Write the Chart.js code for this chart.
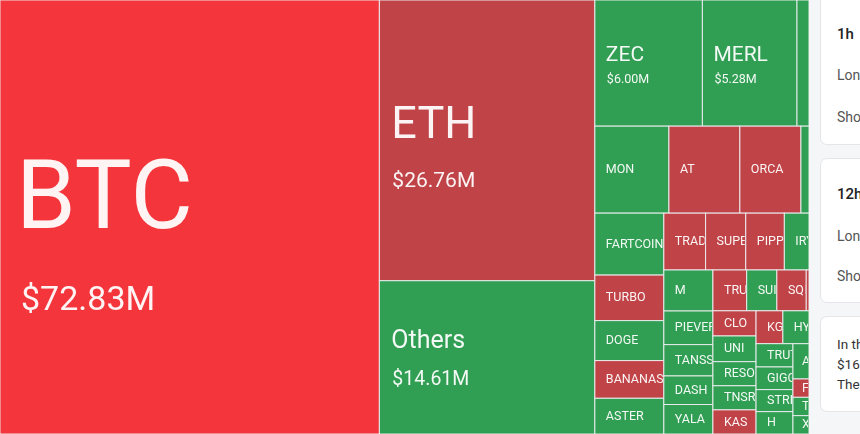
<!DOCTYPE html>
<html>
<head>
<meta charset="utf-8">
<title>Liquidation Heatmap</title>
<script src="https://cdn.jsdelivr.net/npm/chart.js@4.4.1/dist/chart.umd.min.js"></script>
<style>
  html, body { margin: 0; padding: 0; width: 860px; height: 434px; overflow: hidden; background: #f5f6f8; font-family: Roboto, "Noto Sans", sans-serif; }
  #mapBox { position: absolute; left: 0; top: 0; width: 809px; height: 434px; }
  .card { position: absolute; left: 820px; width: 320px; background: #fff; border: 1px solid #e4e6ea; border-radius: 7px; box-sizing: border-box; color: #333; white-space: nowrap; }
  .card .ln { position: absolute; left: 16px; font-size: 14px; line-height: 20px; color: #555; }
  .card .hd { color: #222; font-weight: 500; font-size: 15px; }
  .card .tx { font-size: 13.5px; color: #333; }
</style>
</head>
<body>
<div id="mapBox"><canvas id="liqMap" width="809" height="434"></canvas></div>

<div class="card" style="top:-12px;height:157px">
  <div class="ln hd" style="top:35px">1h</div>
  <div class="ln" style="top:76px">Long</div>
  <div class="ln" style="top:118px">Short</div>
</div>
<div class="card" style="top:158px;height:145px">
  <div class="ln hd" style="top:25px">12h</div>
  <div class="ln" style="top:67px">Long</div>
  <div class="ln" style="top:107px">Short</div>
</div>
<div class="card" style="top:316px;height:96px">
  <div class="ln tx" style="top:17px">In the past 24 hours, traders were liquidated,</div>
  <div class="ln tx" style="top:37px">$162.47 million in total.</div>
  <div class="ln tx" style="top:57px">The largest single liquidation order</div>
</div>

<script>
// 24h liquidations per coin, $ millions
const coins = ['BTC', 'ETH', 'Others', 'ZEC', 'MERL', 'XPL', 'MON', 'AT', 'ORCA', 'ENA',
  'FARTCOIN', 'TURBO', 'DOGE', 'BANANAS31', 'ASTER', 'TRADOOR', 'SUPER', 'PIPPIN', 'IRYS',
  'M', 'PIEVERSE', 'TANSSI', 'DASH', 'YALA', 'TRUMP', 'SUI', 'SQD', 'WLD',
  'CLO', 'UNI', 'RESOLV', 'TNSR', 'KAS', 'KGEN', 'HYPE', 'TRUTH', 'GIGGLE', 'STRK', 'H',
  'AVAX', 'FET', 'TAO', 'XRP'];
const liqMillions = [72.83, 26.76, 14.61, 6.00, 5.28, 0.67, 2.85, 2.73, 2.35, 0.31,
  1.89, 1.39, 1.22, 1.15, 1.09, 1.05, 1.01, 0.97, 0.62,
  0.89, 0.73, 0.68, 0.62, 0.64, 0.61, 0.545, 0.53, 0.05,
  0.48, 0.49, 0.46, 0.46, 0.46, 0.39, 0.38, 0.38, 0.37, 0.36, 0.365,
  0.25, 0.13, 0.13, 0.13];
const tones = ['hot', 'short', 'long', 'long', 'long', 'long', 'long', 'short', 'short', 'long',
  'long', 'short', 'long', 'short', 'long', 'short', 'short', 'short', 'long',
  'long', 'long', 'long', 'long', 'long', 'short', 'long', 'short', 'short',
  'short', 'long', 'long', 'long', 'short', 'short', 'long', 'long', 'long', 'long', 'long',
  'long', 'short', 'long', 'long'];
// how the cells are grouped into strips (squarified rows)
const stripSizes = [1, 2, 3, 4, 5, 4, 5, 4, 5, 2, 4, 4];
const stripDirs = ['col', 'col', 'row', 'row', 'col', 'row', 'col', 'row', 'col', 'row', 'col', 'col'];

const toneColors = { hot: '#f4353b', short: '#c04347', long: '#309e53' };
const bigLabels = {
  BTC:    { name: 96, amt: 34, nameDy: 11, amtDy: 93, pad: 16, amtPad: 21 },
  ETH:    { name: 45, amt: 21, nameDy: -2, amtDy: 47, pad: 12, amtPad: 13 },
  Others: { name: 25, amt: 19.5, nameDy: -9, amtDy: 28, pad: 12, amtPad: 13 },
  ZEC:    { name: 21, amt: 12.5, nameDy: -2, amtDy: 20, pad: 11, amtPad: 12 },
  MERL:   { name: 21, amt: 12.5, nameDy: -2, amtDy: 20, pad: 11, amtPad: 12 }
};

// lay the strips out in a unit square (x right, y down)
function layoutCells() {
  const cells = [];
  let remaining = liqMillions.reduce((a, b) => a + b, 0);
  let x0 = 0, y0 = 0, x1 = 1, y1 = 1, i = 0;
  stripSizes.forEach((n, s) => {
    const idx = [];
    for (let k = 0; k < n; k++) idx.push(i++);
    const sum = idx.reduce((a, j) => a + liqMillions[j], 0);
    if (stripDirs[s] === 'col') {
      const w = (x1 - x0) * sum / remaining;
      let y = y0;
      idx.forEach(j => {
        const h = (y1 - y0) * liqMillions[j] / sum;
        cells.push({ i: j, x0: x0, x1: x0 + w, y0: y, y1: y + h });
        y += h;
      });
      x0 += w;
    } else {
      const h = (y1 - y0) * sum / remaining;
      let x = x0;
      idx.forEach(j => {
        const w = (x1 - x0) * liqMillions[j] / sum;
        cells.push({ i: j, x0: x, x1: x + w, y0: y0, y1: y0 + h });
        x += w;
      });
      y0 += h;
    }
    remaining -= sum;
  });
  return cells;
}
const cells = layoutCells();

const treemapCells = {
  id: 'treemapCells',
  afterDatasetsDraw(chart) {
    const { ctx, scales: { x, y } } = chart;
    ctx.save();
    cells.forEach(c => {
      const left = x.getPixelForValue(c.x0), right = x.getPixelForValue(c.x1);
      const top = y.getPixelForValue(c.y0), bottom = y.getPixelForValue(c.y1);
      const w = right - left, h = bottom - top;
      ctx.fillStyle = toneColors[tones[c.i]];
      ctx.fillRect(left, top, w, h);
      ctx.strokeStyle = 'rgba(236,238,240,0.95)';
      ctx.lineWidth = 1;
      ctx.strokeRect(left, top, w, h);

      if (w < 14 || h < 14) return;
      const name = coins[c.i];
      const cy = top + h / 2;
      ctx.save();
      ctx.beginPath();
      ctx.rect(left + 1, top + 1, w - 2, h - 2);
      ctx.clip();
      ctx.fillStyle = 'rgba(255,255,255,0.94)';
      ctx.textAlign = 'left';
      const big = bigLabels[name];
      if (big) {
        ctx.textBaseline = 'alphabetic';
        ctx.font = '400 ' + big.name + 'px Roboto, "Noto Sans", sans-serif';
        ctx.fillText(name, left + big.pad, cy + big.nameDy);
        ctx.font = '400 ' + big.amt + 'px Roboto, "Noto Sans", sans-serif';
        ctx.fillText('$' + liqMillions[c.i].toFixed(2) + 'M', left + big.amtPad, cy + big.amtDy);
      } else {
        ctx.textBaseline = 'middle';
        ctx.font = '400 12.5px Roboto, "Noto Sans", sans-serif';
        ctx.fillText(name, left + (w < 20 ? 9 : 11), cy + 0.5);
      }
      ctx.restore();
    });
    ctx.restore();
  }
};

new Chart(document.getElementById('liqMap').getContext('2d'), {
  type: 'scatter',
  data: {
    datasets: [{
      label: 'Liquidations',
      data: cells.map(c => ({ x: (c.x0 + c.x1) / 2, y: (c.y0 + c.y1) / 2 })),
      pointRadius: 0,
      pointHoverRadius: 0
    }]
  },
  options: {
    responsive: false,
    animation: false,
    layout: { padding: 0 },
    plugins: { legend: { display: false }, tooltip: { enabled: false } },
    scales: {
      x: { type: 'linear', min: 0, max: 1, display: false },
      y: { type: 'linear', min: 0, max: 1, reverse: true, display: false }
    }
  },
  plugins: [treemapCells]
});
</script>
</body>
</html>
